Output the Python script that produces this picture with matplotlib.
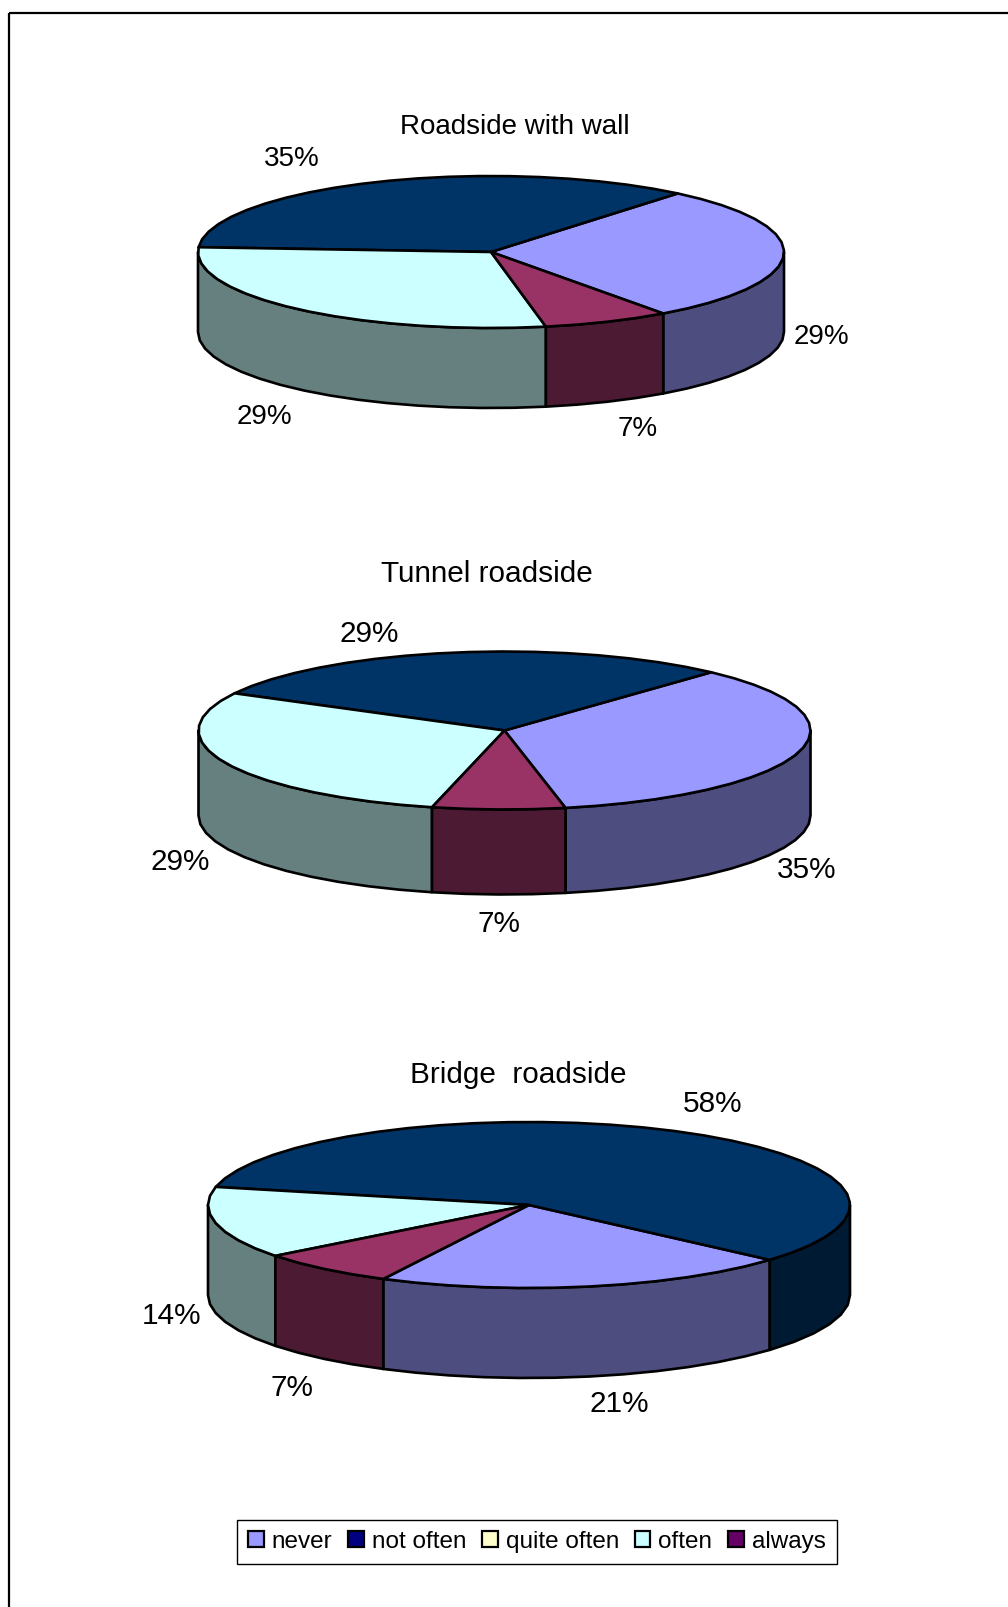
import numpy as np
import matplotlib
matplotlib.use('Agg')
import matplotlib.pyplot as plt
from matplotlib.patches import Polygon, Patch

plt.rcParams['font.family'] = ['Liberation Sans', 'DejaVu Sans']

# Porcentajes por grupo, en el orden de la leyenda
categories = ['never', 'not often', 'quite often', 'often', 'always']
titles = ['Roadside with wall', 'Tunnel roadside', 'Bridge  roadside']
wall_values = [29, 35, 0, 29, 7]
tunnel_values = [35, 29, 0, 29, 7]
bridge_values = [21, 58, 0, 14, 7]

top_colors = ['#9999FF', '#003366', '#FFFFCC', '#CCFFFF', '#993366']
side_colors = ['#4D4D80', '#001A33', '#808066', '#668080', '#4D1A33']
legend_colors = ['#9999FF', '#000080', '#FFFFCC', '#CCFFFF', '#660066']

# cx, cy, rx, ry, grosor, angulo inicial
wall_geom = (491, 252, 293, 76, 80, -54)
tunnel_geom = (504.5, 730.5, 306, 79, 85, -78.5)
bridge_geom = (529, 1205, 321, 83, 90, -117)

# Posicion de las etiquetas de cada porcion
wall_labels = [(821, 336.5), (292, 159.5), None, (264, 417.5), (638, 428.5)]
tunnel_labels = [(807, 870.5), (369, 634.5), None, (180, 862.5), (499, 923.5)]
bridge_labels = [(619, 1404.5), (713, 1104.5), None, (171, 1316.5), (292, 1388.5)]

title_pos = [(515, 127.5), (487, 574.5), (518, 1075)]
title_sizes = [20, 21.4, 21.4]
label_sizes = [20, 21.4, 21.4]


def arc(cx, cy, rx, ry, a0, a1):
    n = max(2, int(abs(a1 - a0) / 6) + 1)
    t = np.radians(np.linspace(a0, a1, n))
    return np.column_stack([cx + rx * np.cos(t), cy - ry * np.sin(t)])


def draw_pie(ax, values, geom, label_pos, label_size):
    cx, cy, rx, ry, depth, start = geom
    edges = start + np.cumsum([0] + values) * 3.6

    # Pared lateral: solo la parte frontal del disco (180-360 grados)
    for i in range(len(values)):
        if values[i] == 0:
            continue
        for shift in (-360, 0, 360):
            a0 = max(edges[i] + shift, 180)
            a1 = min(edges[i + 1] + shift, 360)
            if a1 <= a0:
                continue
            rim = arc(cx, cy, rx, ry, a0, a1)
            low = rim[::-1] + [0, depth]
            ax.add_patch(Polygon(np.vstack([rim, low]), closed=True,
                                 fc=side_colors[i], ec='black', lw=1.9,
                                 joinstyle='round'))

    # Cara superior
    for i in range(len(values)):
        if values[i] == 0:
            continue
        rim = arc(cx, cy, rx, ry, edges[i], edges[i + 1])
        ax.add_patch(Polygon(np.vstack([[cx, cy], rim]), closed=True,
                             fc=top_colors[i], ec='black', lw=1.9,
                             joinstyle='round'))

    for v, pos in zip(values, label_pos):
        if pos is not None:
            ax.text(pos[0], pos[1], f'{v}%', ha='center', va='center', fontsize=label_size)


fig = plt.figure(figsize=(10.08, 16.07), dpi=100)
ax = fig.add_axes([0, 0, 1, 1])
ax.set_xlim(0, 1008)
ax.set_ylim(1607, 0)
ax.axis('off')

# Marco exterior
ax.plot([8.5, 8.5], [1607, 12.5], color='black', lw=1.6, solid_capstyle='butt')
ax.plot([8.5, 1008], [12.5, 12.5], color='black', lw=1.6, solid_capstyle='butt')

draw_pie(ax, wall_values, wall_geom, wall_labels, label_sizes[0])
draw_pie(ax, tunnel_values, tunnel_geom, tunnel_labels, label_sizes[1])
draw_pie(ax, bridge_values, bridge_geom, bridge_labels, label_sizes[2])

for t, pos, size in zip(titles, title_pos, title_sizes):
    ax.text(pos[0], pos[1], t, ha='center', va='center', fontsize=size)

handles = [Patch(fc=c, ec='black', lw=1.6) for c in legend_colors]
leg = ax.legend(handles, categories, ncol=5, loc='center',
                bbox_to_anchor=(537, 1542), bbox_transform=ax.transData,
                fontsize=17.5, frameon=True, fancybox=False, framealpha=1,
                edgecolor='black', handlelength=0.63, handleheight=0.63,
                handletextpad=0.33, columnspacing=0.66, borderpad=0.45,
                borderaxespad=0, labelspacing=0.6)
leg.get_frame().set_linewidth(1.0)

fig.savefig('out.png', dpi=100)
